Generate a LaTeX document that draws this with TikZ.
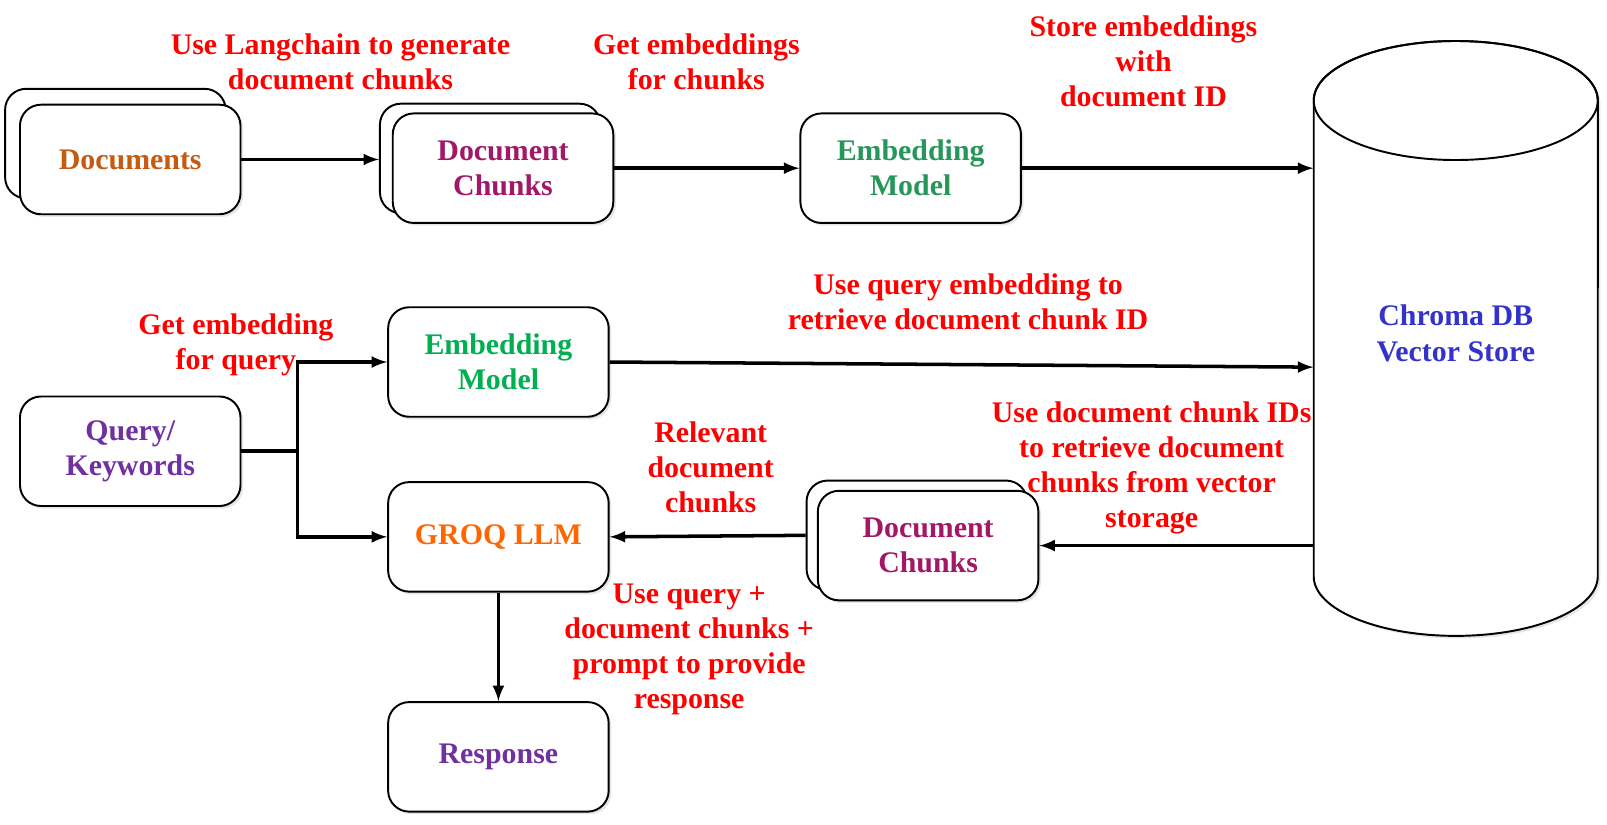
\documentclass[tikz,border=0pt]{standalone}
\usepackage{fontspec}
\setmainfont{Liberation Serif}
\usepackage{tikz}
\usetikzlibrary{arrows,positioning,shadows,calc}

\definecolor{docorange}{RGB}{197,90,17}
\definecolor{chunkpink}{RGB}{163,23,103}
\definecolor{embgreen}{RGB}{38,150,90}
\definecolor{embgreenb}{RGB}{0,176,80}
\definecolor{querypurple}{RGB}{112,48,160}
\definecolor{groqorange}{RGB}{255,102,0}
\definecolor{chromablue}{RGB}{51,51,204}

\begin{document}
\begin{tikzpicture}[x=0.02051cm,y=-0.02051cm,
  box/.style={draw=black,line width=1.1pt,fill=white,rounded corners=0.42cm,minimum width=4.41cm,minimum height=2.19cm,align=center,font=\fontsize{17}{20}\selectfont\bfseries,drop shadow={shadow xshift=1.5pt,shadow yshift=-1.5pt,opacity=0.2}},
  note/.style={text=red,align=center,font=\fontsize{17}{20}\selectfont\bfseries},
  flow/.style={-latex,line width=2pt}]
\useasboundingbox (0,0) rectangle (1567,803.5);
%Zylinder fuer die Vektordatenbank
\draw[line width=1.1pt,fill=white,drop shadow={shadow xshift=1.5pt,shadow yshift=-1.5pt,opacity=0.2}] (1281,98) -- (1281,562) arc[start angle=180,end angle=360,x radius=2.84cm,y radius=1.19cm] -- (1558,98) arc[start angle=0,end angle=180,x radius=2.84cm,y radius=1.19cm] -- cycle;
\draw[line width=1.1pt] (1419.5,98) ellipse[x radius=2.84cm,y radius=1.19cm];
\node[align=center,text=chromablue,font=\fontsize{17}{20}\selectfont\bfseries,minimum width=5.68cm,minimum height=11.9cm] (chroma) at (1419.5,325) {Chroma DB\\Vector Store};
%Kaesten
\node[box] (docsback) at (112.5,140) {};
\node[box,text=docorange] (docs) at (127,155.5) {Documents};
\node[box] (chunksback) at (478,154.5) {};
\node[box,text=chunkpink] (chunks) at (490.5,164) {Document\\Chunks};
\node[box,text=embgreen] (emb) at (888,164) {Embedding\\Model};
\node[box,text=embgreenb] (emb2) at (486,353) {Embedding\\Model};
\node[box,text=querypurple] (query) at (127,440) {Query/\\Keywords};
\node[box,text=groqorange] (groq) at (486,523.5) {GROQ LLM};
\node[box,text=querypurple] (resp) at (486,738) {Response};
\node[box] (chunks2back) at (894,522) {};
\node[box,text=chunkpink] (chunks2) at (905,532) {Document\\Chunks};
%Pfeile
\coordinate (split) at (290,440);
\draw[flow] (docs.east) -- (docs.east -| chunksback.west);
\draw[flow] (chunks.east) -- (emb.west);
\draw[flow] (emb.east) -- (emb.east -| chroma.west);
\draw[flow] (emb2.east) -- ($(emb2.east -| chroma.west)+(0,5)$);
\draw[flow] (chroma.west |- chunks2.east) -- (chunks2.east);
\draw[flow] (chunks2back.west) -- (groq.east);
\draw[line width=2pt] (query.east) -- (split);
\draw[flow] (split) |- (emb2.west);
\draw[flow] (split) |- (groq.west);
\draw[flow] (groq) -- (resp);
%Beschriftungen
\node[note] (lchunk) at (332,60) {Use Langchain to generate\\document chunks};
\node[note] (lemb) at (679,60) {Get embeddings\\for chunks};
\node[note] (lstore) at (1115,60) {Store embeddings\\with\\document ID};
\node[note] (lquery) at (944,294.5) {Use query embedding to\\retrieve document chunk ID};
\node[note] (lqemb) at (230,336.5) {Get embedding\\for query};
\node[note] (lrel) at (693,456) {Relevant\\document\\chunks};
\node[note] (lids) at (1123,456.5) {Use document chunk IDs\\to retrieve document\\chunks from vector\\storage};
\node[note] (lprompt) at (672,633) {Use query +\\document chunks +\\prompt to provide\\response};
\end{tikzpicture}
\end{document}
